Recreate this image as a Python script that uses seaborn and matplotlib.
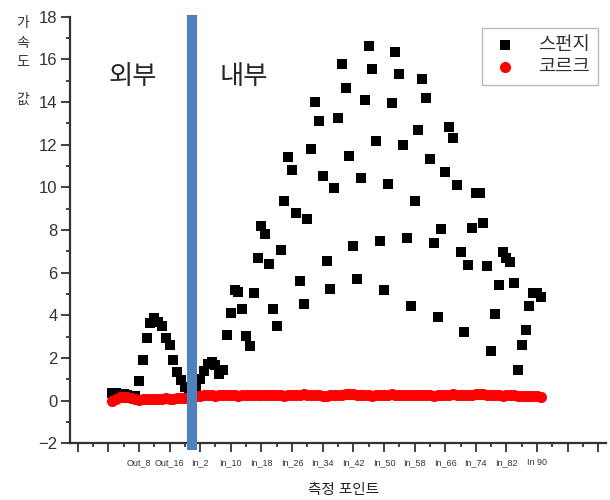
import numpy as np
import pandas as pd
import matplotlib
matplotlib.use("Agg")
import matplotlib.pyplot as plt
from matplotlib.ticker import FixedLocator, MultipleLocator
import seaborn as sns

# ---------------- data ----------------
# Acceleration values per measuring point (Out_1..Out_22, then In_1..In_91)
sponge_outer = [0.35, 0.35, 0.33, 0.30, 0.28, 0.22, 0.20, 0.90, 1.92, 2.94, 3.64,
                3.87, 3.71, 3.48, 2.94, 2.62, 1.92, 1.33, 0.98, 0.64, 0.45, 0.30]
sponge_inner = [0.60, 1.00, 1.40, 1.70, 1.80, 1.65, 1.25, 1.45,
                3.09, 4.11, 5.20, 5.09, 4.31, 3.04, 2.58, 5.04, 6.71, 8.21,
                7.82, 6.40, 4.31, 3.48, 7.07, 9.38, 11.41, 10.82, 8.82, 5.62,
                4.53, 8.52, 11.80, 14.02, 13.13, 10.51, 6.56, 5.23, 9.99, 13.27,
                15.77, 14.68, 11.49, 7.23, 5.68, 10.43, 14.10, 16.63, 15.54, 12.15,
                7.49, 5.17, 10.15, 13.94, 16.33, 15.32, 11.99, 7.62, 4.45, 9.34,
                12.69, 15.07, 14.21, 11.32, 7.41, 3.90, 8.07, 10.74, 12.85, 12.30,
                10.09, 6.95, 3.22, 6.34, 8.09, 9.73, 9.73, 8.32, 6.29, 2.31,
                4.07, 5.40, 6.95, 6.71, 6.52, 5.51, 1.45, 2.62, 3.33, 4.46,
                5.04, 5.04, 4.86]
cork_outer = [0.00, 0.10, 0.15, 0.16, 0.16, 0.14, 0.08, 0.02, 0.08, 0.09, 0.10,
              0.10, 0.09, 0.10, 0.11, 0.10, 0.10, 0.11, 0.12, 0.12, 0.13, 0.15]
cork_inner = [0.22, 0.24, 0.25, 0.26, 0.25, 0.24, 0.25, 0.26, 0.27, 0.26,
              0.25, 0.24, 0.25, 0.26, 0.27, 0.26, 0.25, 0.26, 0.27, 0.28,
              0.27, 0.26, 0.25, 0.24, 0.25, 0.26, 0.27, 0.28, 0.29, 0.28,
              0.27, 0.26, 0.25, 0.24, 0.24, 0.25, 0.26, 0.27, 0.28, 0.29,
              0.30, 0.29, 0.28, 0.27, 0.26, 0.25, 0.24, 0.25, 0.26, 0.27,
              0.28, 0.29, 0.28, 0.27, 0.26, 0.25, 0.26, 0.27, 0.28, 0.27,
              0.26, 0.25, 0.24, 0.25, 0.26, 0.27, 0.28, 0.29, 0.28, 0.27,
              0.26, 0.27, 0.28, 0.29, 0.30, 0.29, 0.28, 0.27, 0.26, 0.25,
              0.24, 0.25, 0.26, 0.25, 0.24, 0.23, 0.22, 0.22, 0.21, 0.20, 0.19]

series_names = ["스펀지", "코르크"]
x_tick_labels = ["", "", "Out_8", "Out_16", "In_2", "In_10", "In_18", "In_26",
                 "In_34", "In_42", "In_50", "In_58", "In_66", "In_74", "In_82",
                 "In 90", "", ""]
region_labels = ["외부", "내부"]
x_title = "측정 포인트"
y_title_chars = ["가", "속", "도", "값"]

sponge = sponge_outer + sponge_inner
cork = cork_outer + cork_inner
idx = np.arange(len(sponge))
df = pd.DataFrame({"point": np.concatenate([idx, idx]),
                   "value": sponge + cork,
                   "series": [series_names[0]] * len(sponge) + [series_names[1]] * len(cork)})

# ---------------- style ----------------
sns.set_style("white")
plt.rcParams["font.family"] = ["Liberation Sans", "Noto Sans CJK KR", "DejaVu Sans"]

fig = plt.figure(figsize=(6.1, 5.0), dpi=100)
ax = fig.add_axes([70 / 610, 1 - 443.3 / 500, 536 / 610, 426.6 / 500])

sns.scatterplot(data=df[df.series == series_names[0]], x="point", y="value",
                marker="s", color="black", s=44, linewidth=0, ax=ax,
                label=series_names[0], zorder=3)
sns.scatterplot(data=df[df.series == series_names[1]], x="point", y="value",
                marker="o", color="#ff0000", s=64, linewidth=0, ax=ax,
                label=series_names[1], zorder=4)

# divider between outer and inner
ax.plot([20.8, 20.8], [-2.3, 18.08], color="#4f81bd", lw=7.3,
        solid_capstyle="butt", clip_on=False, zorder=6)

ax.set_xlim(-11, 129)
ax.set_ylim(-2, 18)
ax.set_xlabel("")
ax.set_ylabel("")

for s in ["top", "right"]:
    ax.spines[s].set_visible(False)
for s in ["left", "bottom"]:
    ax.spines[s].set_linewidth(1.6)
    ax.spines[s].set_color("#333333")

ax.xaxis.set_major_locator(FixedLocator(np.arange(-9, 128, 8)))
ax.xaxis.set_minor_locator(FixedLocator(np.arange(-5, 128, 8)))
ax.set_xticklabels(x_tick_labels)
ax.yaxis.set_major_locator(MultipleLocator(2))
ax.yaxis.set_minor_locator(MultipleLocator(1))

ax.tick_params(axis="both", which="major", direction="out", length=6.5, width=1.3,
               color="#333333")
ax.tick_params(axis="both", which="minor", direction="out", length=3.2, width=1.3,
               color="#333333")
ax.tick_params(axis="x", which="major", labelsize=6.5, pad=4, labelcolor="#333333")
ax.tick_params(axis="y", which="major", labelsize=12, pad=2.4, labelcolor="#333333")
ax.tick_params(bottom=True, left=True, which="both")

leg = ax.legend(loc="upper right", bbox_to_anchor=(0.985, 0.9735), borderaxespad=0,
                frameon=True, fancybox=False, edgecolor="#aaaaaa", fontsize=13.5,
                handletextpad=1.0, borderpad=0.45, labelspacing=0.3, handlelength=1.5)
leg.get_frame().set_linewidth(1.0)
for t in leg.get_texts():
    t.set_color("#333333")

# region labels
fig.text(133 / 610, 1 - 77 / 500, region_labels[0], fontsize=19, ha="center", va="center")
fig.text(244 / 610, 1 - 77 / 500, region_labels[1], fontsize=19, ha="center", va="center")

# axis titles
fig.text(344 / 610, 1 - 490 / 500, x_title, fontsize=10.5, ha="center", va="center",
         color="#222222")
for ch, ypx in zip(y_title_chars, [22.7, 43.3, 61.7, 100]):
    fig.text(22.5 / 610, 1 - ypx / 500, ch, fontsize=10, ha="center", va="center",
             color="#333333")

fig.savefig("out.png", dpi=100)
